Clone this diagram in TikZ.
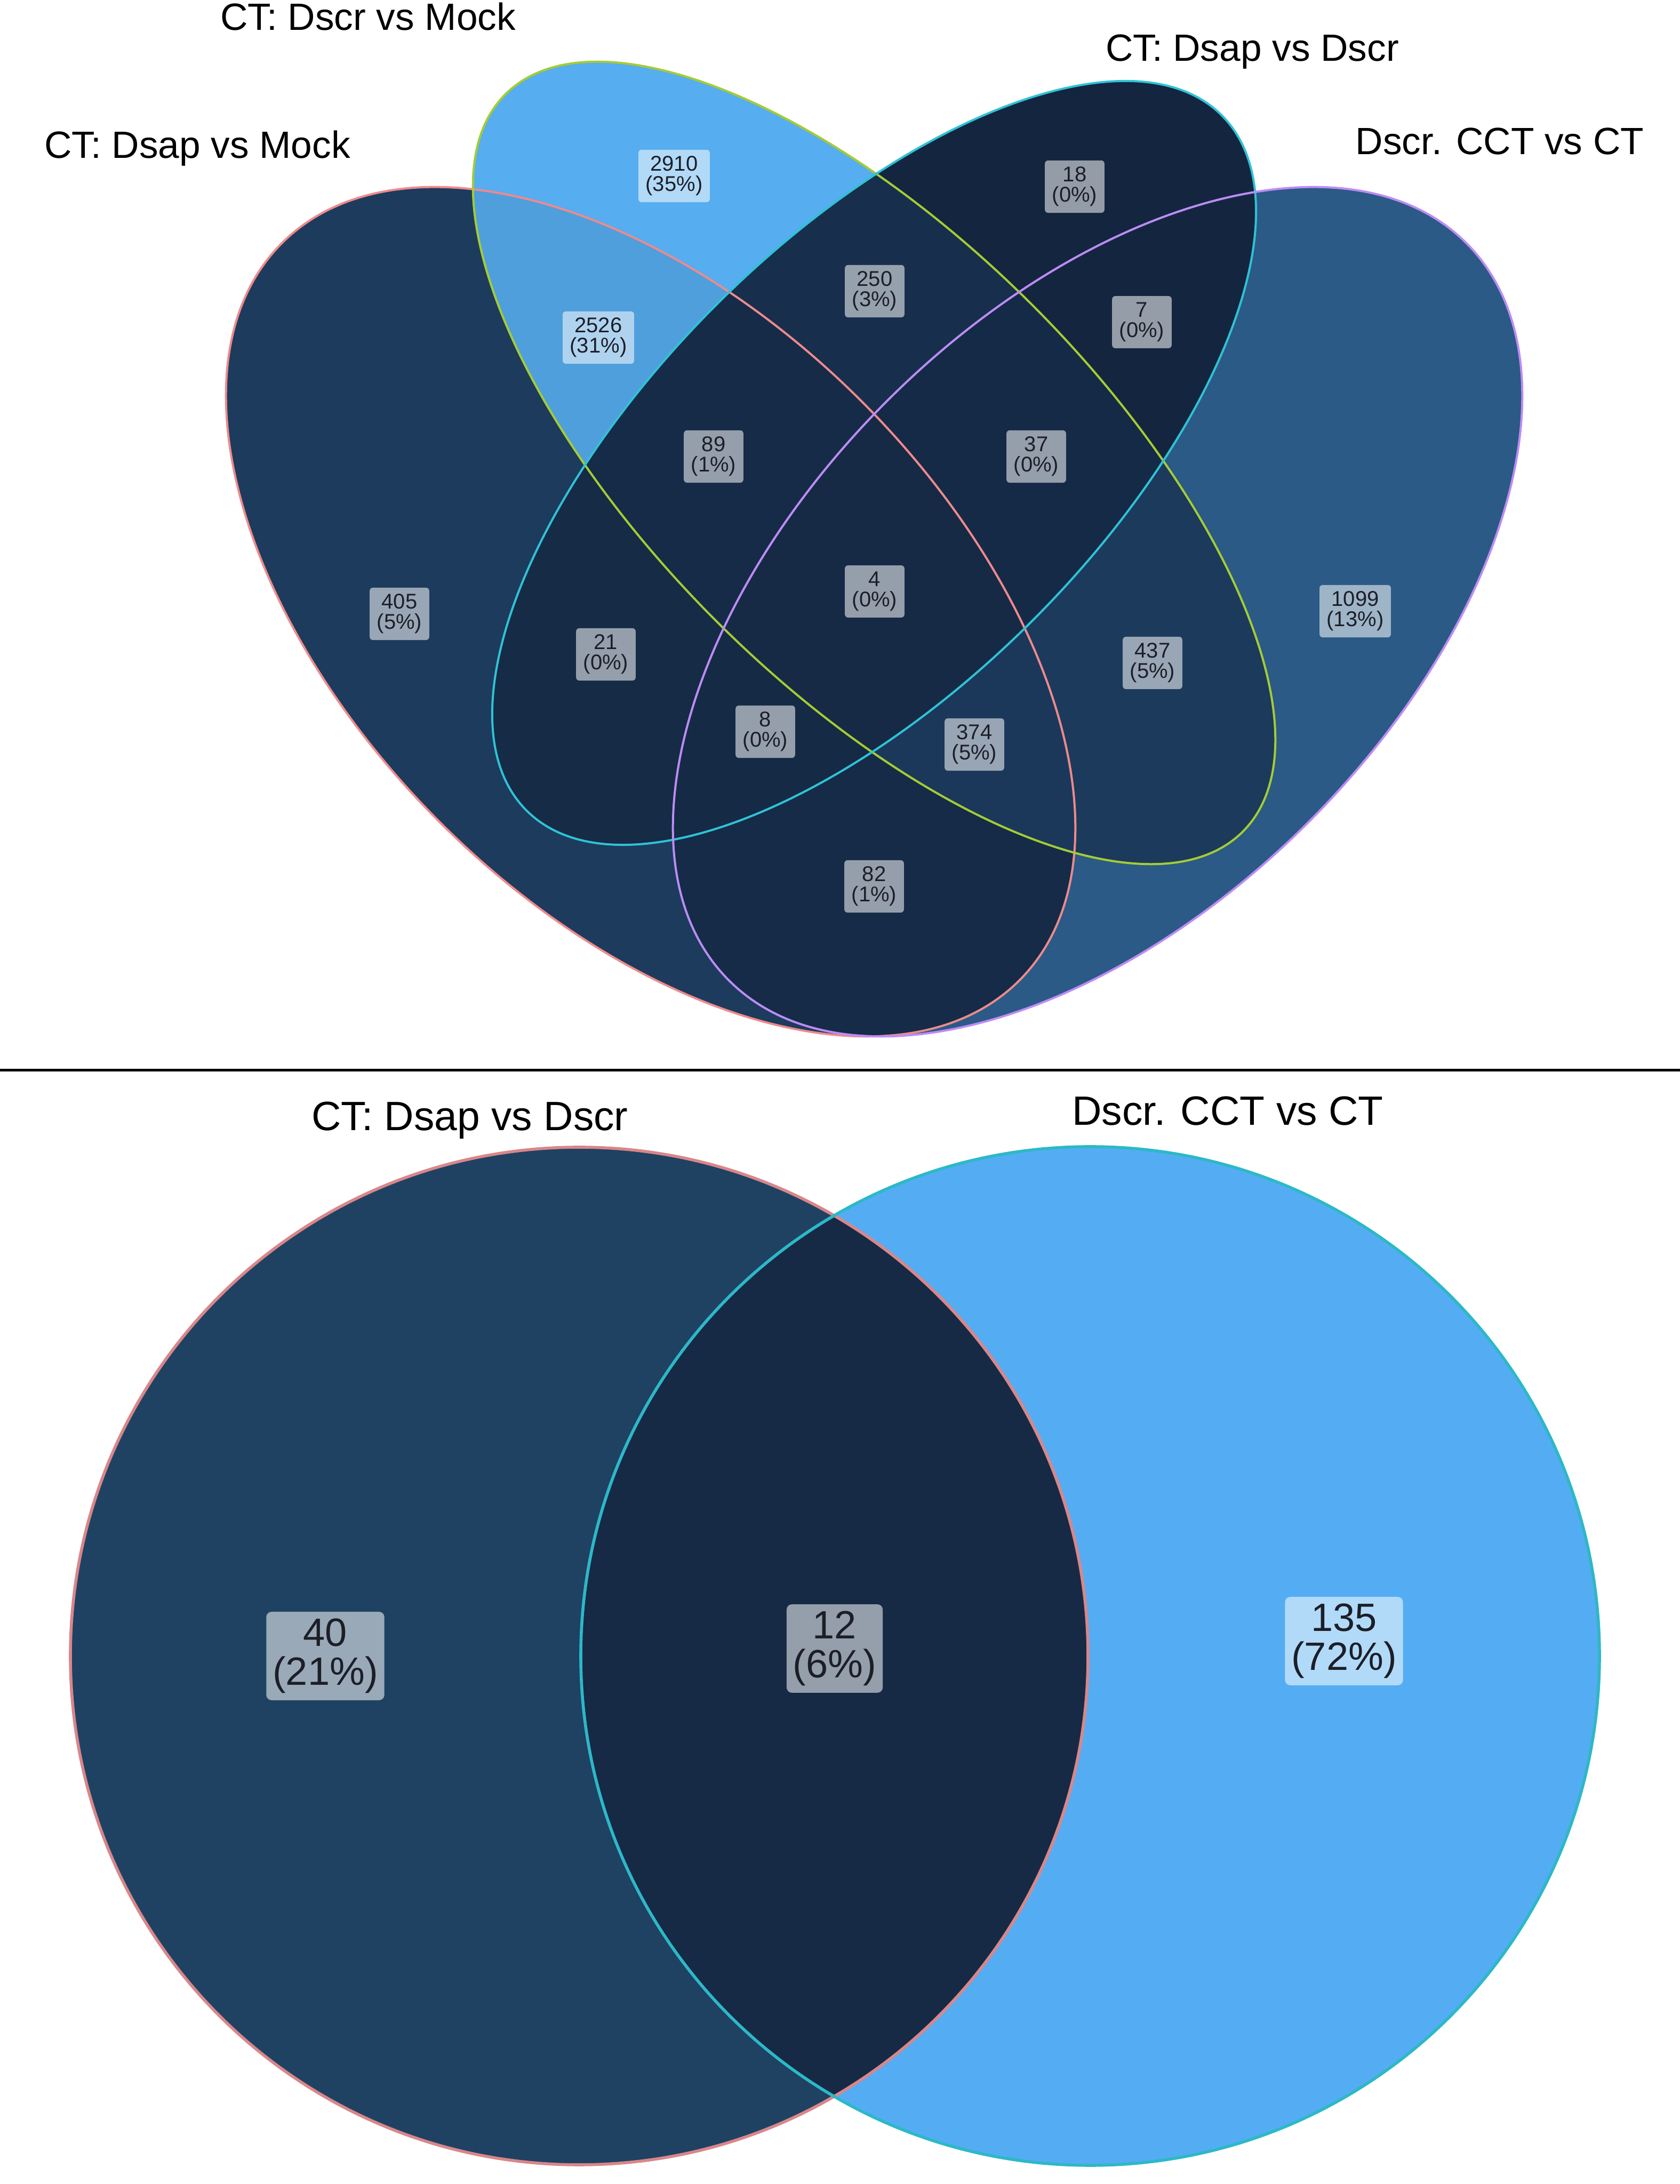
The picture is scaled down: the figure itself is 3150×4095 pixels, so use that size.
\documentclass[tikz,border=0pt]{standalone}
\usepackage{fontspec}
\setmainfont{Liberation Sans}
\definecolor{cA}{HTML}{1D3B5C}
\definecolor{cB}{HTML}{56ADEF}
\definecolor{cC}{HTML}{13253F}
\definecolor{cD}{HTML}{2A5A85}
\definecolor{cAB}{HTML}{4F9FDD}
\definecolor{cAC}{HTML}{152B46}
\definecolor{cAD}{HTML}{152B47}
\definecolor{cBC}{HTML}{172F4C}
\definecolor{cBD}{HTML}{1C3A5C}
\definecolor{cCD}{HTML}{14263F}
\definecolor{cABC}{HTML}{152B48}
\definecolor{cABD}{HTML}{1B385A}
\definecolor{cACD}{HTML}{152A45}
\definecolor{cBCD}{HTML}{152A46}
\definecolor{cABCD}{HTML}{162A46}
\definecolor{lA}{HTML}{EE8A8C}
\definecolor{lB}{HTML}{A4CC34}
\definecolor{lC}{HTML}{2FC2D6}
\definecolor{lD}{HTML}{BC8CF5}
\definecolor{bL}{HTML}{1F4262}
\definecolor{bR}{HTML}{54ADF2}
\definecolor{bLR}{HTML}{162A45}
\definecolor{blL}{HTML}{D9868A}
\definecolor{blR}{HTML}{2DB8C8}
\definecolor{numtext}{HTML}{1C1E28}
\newcommand\shA[1]{\path[rotate around={135:(1220,2948)},#1] (1220,2948) ellipse (977.6 and 558.6);}
\newcommand\shB[1]{\path[rotate around={135:(1639,3227)},#1] (1639,3227) ellipse (977.6 and 419);}
\newcommand\shC[1]{\path[rotate around={45:(1639,3227)},#1] (1639,3227) ellipse (921.7 and 419);}
\newcommand\shD[1]{\path[rotate around={45:(2058,2948)},#1] (2058,2948) ellipse (977.6 and 558.6);}
\newcommand\shL[1]{\path[#1] (1086,990) circle (954);}
\newcommand\shR[1]{\path[#1] (2044,990) circle (955);}
\tikzset{
  num/.style={fill=white, fill opacity=0.55, text opacity=1, text=numtext,
    rounded corners=1.5pt, inner xsep=3.4pt, inner ysep=3pt, align=center,
    font=\fontsize{10}{9.5}\selectfont},
  bignum/.style={fill=white, fill opacity=0.55, text opacity=1, text=numtext,
    rounded corners=2.5pt, inner xsep=3pt, inner ysep=3.2pt, align=center,
    font=\fontsize{18.5}{18.3}\selectfont},
  ttl/.style={font=\fontsize{17.8}{18}\selectfont, anchor=base, inner sep=0pt},
  bttl/.style={font=\fontsize{19.2}{19}\selectfont, anchor=base, inner sep=0pt},
  outl/.style={line width=1pt}
}
\begin{document}
\begin{tikzpicture}[x=0.25pt, y=0.25pt]
\fill[white] (0,0) rectangle (3150,4095);
\useasboundingbox (0,0) rectangle (3150,4095);
% ---------- top: four-set diagram ----------
\shA{fill=cA}
\shB{fill=cB}
\shC{fill=cC}
\shD{fill=cD}
\begin{scope}\shA{clip}\shB{fill=cAB}\end{scope}
\begin{scope}\shA{clip}\shC{fill=cAC}\end{scope}
\begin{scope}\shA{clip}\shD{fill=cAD}\end{scope}
\begin{scope}\shB{clip}\shC{fill=cBC}\end{scope}
\begin{scope}\shB{clip}\shD{fill=cBD}\end{scope}
\begin{scope}\shC{clip}\shD{fill=cCD}\end{scope}
\begin{scope}\shA{clip}\shB{clip}\shC{fill=cABC}\end{scope}
\begin{scope}\shA{clip}\shB{clip}\shD{fill=cABD}\end{scope}
\begin{scope}\shA{clip}\shC{clip}\shD{fill=cACD}\end{scope}
\begin{scope}\shB{clip}\shC{clip}\shD{fill=cBCD}\end{scope}
\begin{scope}\shA{clip}\shB{clip}\shC{clip}\shD{fill=cABCD}\end{scope}
\shA{draw=lA, outl}
\shB{draw=lB, outl}
\shC{draw=lC, outl}
\shD{draw=lD, outl}
% titles
\node[ttl] (tB) at (690,4038) {CT: Dscr vs Mock};
\node[ttl] (tA) at (370,3798) {CT: Dsap vs Mock};
\node[ttl] (tC) at (2348,3980) {CT: Dsap vs Dscr};
\node[ttl] (tD) at (2812,3805) {Dscr. CCT vs CT};
% counts
\node[num] (n2910) at (1264,3765) {2910\\(35\%)};
\node[num] (n18)   at (2015,3745) {18\\(0\%)};
\node[num] (n250)  at (1640,3549) {250\\(3\%)};
\node[num] (n2526) at (1122,3462) {2526\\(31\%)};
\node[num] (n7)    at (2141,3491) {7\\(0\%)};
\node[num] (n89)   at (1338,3239) {89\\(1\%)};
\node[num] (n37)   at (1943,3239) {37\\(0\%)};
\node[num] (n405)  at (749,2944)  {405\\(5\%)};
\node[num] (n4)    at (1640,2986) {4\\(0\%)};
\node[num] (n1099) at (2541,2949) {1099\\(13\%)};
\node[num] (n21)   at (1136,2868) {21\\(0\%)};
\node[num] (n437)  at (2161,2852) {437\\(5\%)};
\node[num] (n8)    at (1435,2723) {8\\(0\%)};
\node[num] (n374)  at (1827,2699) {374\\(5\%)};
\node[num] (n82)   at (1639,2433) {82\\(1\%)};
% ---------- separator ----------
\coordinate (sepL) at (0,2088);
\coordinate (sepR) at (3150,2088);
\draw[line width=1.25pt, black] (sepL) -- (sepR);
% ---------- bottom: two-set diagram ----------
\shL{fill=bL}
\shR{fill=bR}
\begin{scope}\shL{clip}\shR{fill=bLR}\end{scope}
\shL{draw=blL, line width=1.4pt}
\shR{draw=blR, line width=1.4pt}
\node[bttl] (bt1) at (881,1975) {CT: Dsap vs Dscr};
\node[bttl] (bt2) at (2302,1985) {Dscr. CCT vs CT};
\node[bignum] (b40)  at (610,990)  {40\\(21\%)};
\node[bignum] (b12)  at (1565,1004) {12\\(6\%)};
\node[bignum] (b135) at (2520,1018) {135\\(72\%)};
\end{tikzpicture}
\end{document}
